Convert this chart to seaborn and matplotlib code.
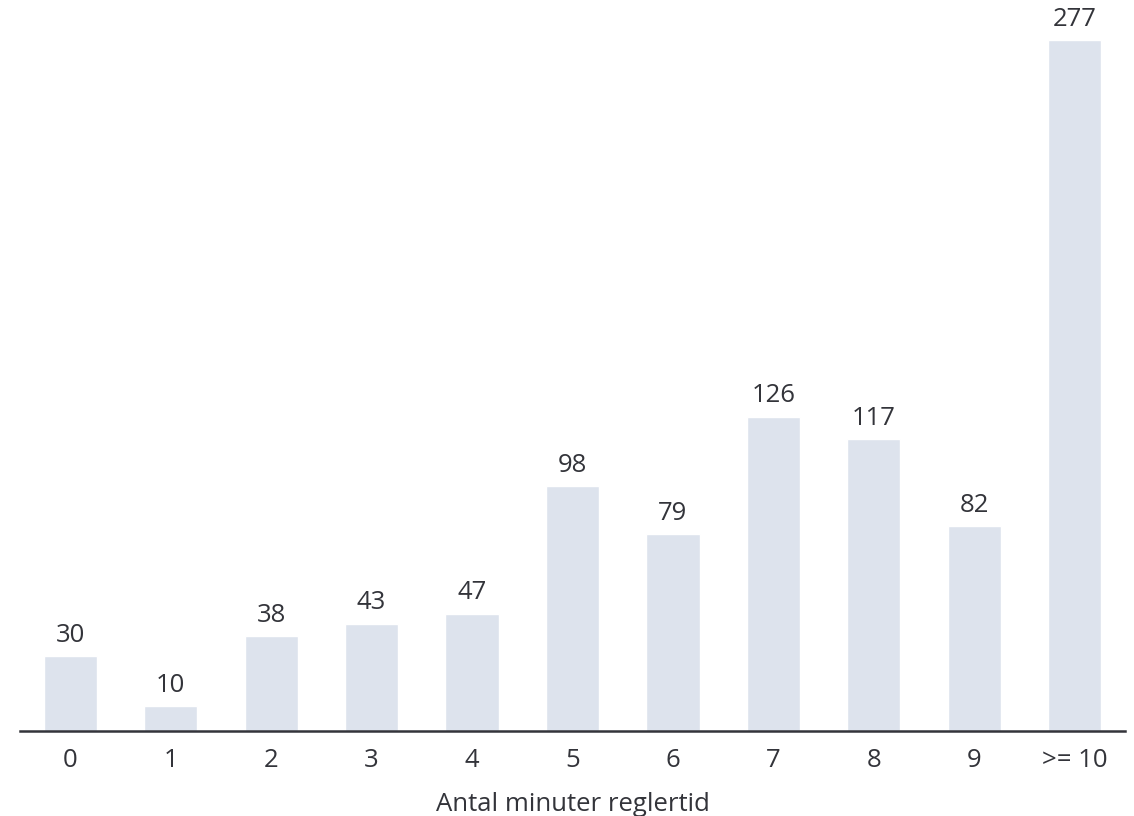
import matplotlib
matplotlib.use("Agg")
import matplotlib.pyplot as plt
import seaborn as sns
import pandas as pd

categories = ["0", "1", "2", "3", "4", "5", "6", "7", "8", "9", ">= 10"]
counts = [30, 10, 38, 43, 47, 98, 79, 126, 117, 82, 277]
x_label = "Antal minuter reglertid"

sns.set_theme(style="white")
plt.rcParams["font.family"] = ["Open Sans", "DejaVu Sans"]

text_color = "#33343a"
bar_color = "#dde3ed"

df = pd.DataFrame({"cat": categories, "n": counts})

fig = plt.figure(figsize=(11.34, 8.16), dpi=100)
ax = fig.add_axes([20 / 1134, 1 - 731 / 816, 1105 / 1134, 731 / 816])

sns.barplot(data=df, x="cat", y="n", color=bar_color, width=0.53,
            saturation=1, ax=ax)

ax.set_xlim(-0.5, len(categories) - 0.5)
ax.set_ylim(0, 731 / 2.495)

for i, v in enumerate(counts):
    ax.annotate(str(v), (i, v), xytext=(0, 6), textcoords="offset points",
                ha="center", va="bottom", fontsize=18.5, color=text_color)

for side in ["top", "right", "left"]:
    ax.spines[side].set_visible(False)
ax.spines["bottom"].set_color(text_color)
ax.spines["bottom"].set_linewidth(1.8)
ax.set_yticks([])
ax.set_ylabel("")
ax.tick_params(axis="x", length=0, pad=12, labelsize=18.5, labelcolor=text_color)
ax.set_xlabel(x_label, fontsize=18.5, color=text_color, labelpad=14)

fig.savefig("out.png", dpi=100)
